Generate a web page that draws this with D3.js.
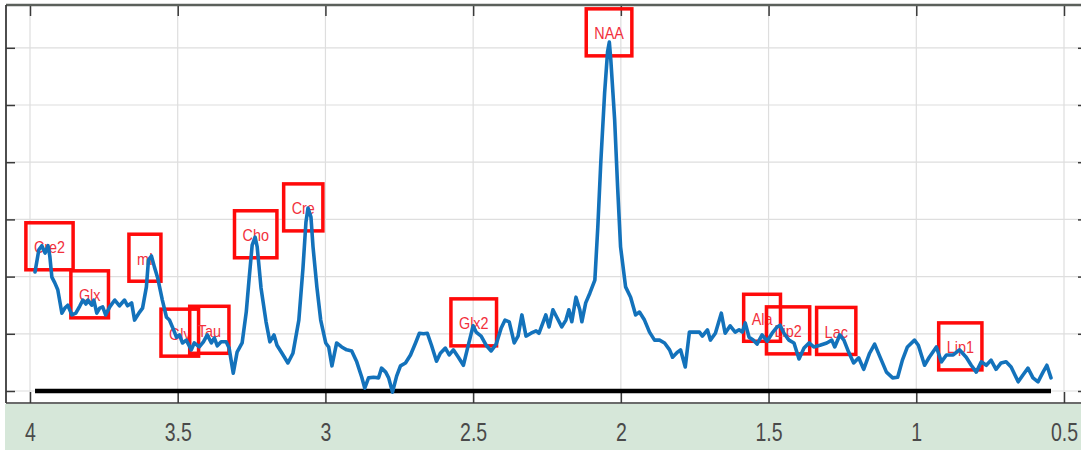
<!DOCTYPE html>
<html>
<head>
<meta charset="utf-8">
<script src="https://cdn.jsdelivr.net/npm/d3@7"></script>
<style>
  html, body { margin: 0; padding: 0; background: #fff; }
  svg { display: block; }
</style>
</head>
<body>
<svg id="chart" width="1081" height="450"></svg>
<script>
// Chemical shift (ppm) of each sample of the spectrum
const ppm = [
  3.983, 3.970, 3.960, 3.949, 3.939, 3.933, 3.926, 3.916, 3.906, 3.892,
  3.882, 3.872, 3.858, 3.845, 3.831, 3.821, 3.811, 3.804, 3.791, 3.784,
  3.774, 3.764, 3.754, 3.744, 3.730, 3.713, 3.697, 3.680, 3.670, 3.656,
  3.646, 3.629, 3.619, 3.606, 3.599, 3.589, 3.579, 3.568, 3.552, 3.538,
  3.528, 3.518, 3.504, 3.494, 3.484, 3.471, 3.454, 3.444, 3.427, 3.413,
  3.400, 3.386, 3.376, 3.366, 3.353, 3.336, 3.326, 3.312, 3.299, 3.282,
  3.268, 3.258, 3.248, 3.238, 3.231, 3.218, 3.201, 3.188, 3.174, 3.164,
  3.147, 3.127, 3.110, 3.090, 3.076, 3.066, 3.059, 3.049, 3.042, 3.029,
  3.016, 2.999, 2.989, 2.978, 2.962, 2.945, 2.928, 2.911, 2.894, 2.877,
  2.867, 2.854, 2.837, 2.820, 2.810, 2.796, 2.786, 2.773, 2.759, 2.746,
  2.729, 2.712, 2.695, 2.682, 2.668, 2.655, 2.641, 2.624, 2.611, 2.594,
  2.581, 2.567, 2.550, 2.533, 2.517, 2.500, 2.490, 2.473, 2.456, 2.439,
  2.422, 2.405, 2.392, 2.378, 2.361, 2.348, 2.335, 2.321, 2.304, 2.287,
  2.277, 2.264, 2.254, 2.243, 2.230, 2.216, 2.200, 2.186, 2.176, 2.166,
  2.152, 2.139, 2.132, 2.119, 2.105, 2.088, 2.078, 2.068, 2.055, 2.045,
  2.039, 2.034, 2.021, 2.011, 2.001, 1.984, 1.967, 1.950, 1.937, 1.920,
  1.903, 1.886, 1.869, 1.852, 1.835, 1.825, 1.808, 1.798, 1.782, 1.768,
  1.751, 1.734, 1.724, 1.707, 1.697, 1.680, 1.660, 1.647, 1.630, 1.613,
  1.600, 1.589, 1.579, 1.566, 1.552, 1.539, 1.522, 1.505, 1.488, 1.471,
  1.461, 1.448, 1.431, 1.414, 1.397, 1.380, 1.363, 1.347, 1.326, 1.303,
  1.286, 1.276, 1.259, 1.245, 1.229, 1.212, 1.195, 1.178, 1.158, 1.141,
  1.124, 1.101, 1.080, 1.063, 1.047, 1.030, 1.006, 0.993, 0.972, 0.956,
  0.932, 0.915, 0.898, 0.875, 0.854, 0.831, 0.814, 0.797, 0.780, 0.763,
  0.747, 0.730, 0.713, 0.696, 0.679, 0.655, 0.639, 0.622, 0.605, 0.588,
  0.571, 0.558, 0.544
];

// Signal intensity (arbitrary units, one unit per grid line)
const intensity = [
  2.08, 2.47, 2.54, 2.41, 2.54, 2.36, 1.99, 1.89, 1.77, 1.36,
  1.45, 1.50, 1.33, 1.36, 1.49, 1.59, 1.52, 1.59, 1.50, 1.59,
  1.36, 1.45, 1.47, 1.33, 1.47, 1.59, 1.49, 1.59, 1.49, 1.54,
  1.24, 1.38, 1.45, 1.82, 2.29, 2.36, 2.17, 1.98, 1.59, 1.29,
  1.24, 1.12, 0.94, 0.98, 0.84, 0.89, 0.72, 0.84, 0.77, 0.86,
  0.98, 0.84, 0.93, 0.79, 0.86, 0.86, 0.75, 0.31, 0.68, 0.84,
  1.38, 1.98, 2.55, 2.69, 2.52, 1.80, 1.21, 0.86, 0.98, 0.80,
  0.66, 0.49, 0.66, 1.24, 2.15, 2.95, 3.20, 3.04, 2.52, 1.82,
  1.24, 0.84, 0.77, 0.44, 0.84, 0.77, 0.72, 0.70, 0.51, 0.24,
  0.05, 0.23, 0.24, 0.23, 0.40, 0.33, 0.23, -0.02, 0.26, 0.44,
  0.49, 0.63, 0.84, 1.01, 1.00, 1.01, 0.80, 0.52, 0.66, 0.75,
  0.63, 0.72, 0.59, 0.45, 0.79, 1.14, 1.03, 0.96, 0.80, 0.70,
  0.82, 1.10, 1.24, 1.21, 0.84, 0.96, 1.33, 0.96, 1.01, 1.05,
  1.01, 1.19, 1.33, 1.12, 1.42, 1.28, 1.12, 1.24, 1.42, 1.21,
  1.64, 1.42, 1.21, 1.54, 1.71, 1.94, 2.87, 3.99, 5.21, 5.93,
  6.10, 5.79, 4.74, 3.57, 2.52, 1.82, 1.64, 1.33, 1.38, 1.24,
  1.03, 0.89, 0.89, 0.84, 0.72, 0.59, 0.68, 0.72, 0.42, 1.03,
  1.03, 1.03, 0.96, 1.07, 0.89, 1.01, 1.36, 1.01, 1.14, 1.03,
  1.07, 1.03, 1.19, 0.94, 0.89, 0.82, 0.98, 0.87, 1.01, 1.12,
  1.15, 1.01, 0.89, 0.84, 0.56, 0.75, 0.84, 0.77, 0.80, 0.84,
  0.89, 0.77, 0.98, 0.89, 0.68, 0.49, 0.58, 0.38, 0.66, 0.82,
  0.61, 0.33, 0.23, 0.24, 0.54, 0.77, 0.89, 0.80, 0.45, 0.59,
  0.77, 0.51, 0.63, 0.63, 0.72, 0.59, 0.45, 0.33, 0.51, 0.45,
  0.54, 0.38, 0.49, 0.51, 0.42, 0.16, 0.28, 0.40, 0.23, 0.16,
  0.33, 0.45, 0.23
];

// Metabolite annotations: name, centre shift and centre level of each box
const metabolites = ["Cre2", "Glx", "mI", "Gly", "Tau", "Cho", "Cre", "NAA", "Glx2", "Ala", "Lip2", "Lac", "Lip1"];
const metabolitePpm = [3.934, 3.798, 3.611, 3.493, 3.393, 3.236, 3.075, 2.040, 2.498, 1.522, 1.434, 1.271, 0.851];
const metaboliteLevel = [2.53, 1.69, 2.33, 1.02, 1.07, 2.74, 3.21, 6.27, 1.20, 1.28, 1.06, 1.05, 0.78];

// Axis ticks
const xTickValues = [4, 3.5, 3, 2.5, 2, 1.5, 1, 0.5];
const xTickLabels = ["4", "3.5", "3", "2.5", "2", "1.5", "1", "0.5"];
const yGridLevels = [0, 1, 2, 3, 4, 5, 6];

const svg = d3.select("#chart");

const frame = { left: 6, top: 5, right: 1084, bottom: 403 };

const x = d3.scaleLinear().domain([4, 0.5]).range([30, 1064]);
const y = d3.scaleLinear().domain([0, 6]).range([391, 391 - 6 * 57.2]);

// Tick label band under the plot
svg.append("rect")
  .attr("x", 5).attr("y", frame.bottom + 1)
  .attr("width", 1081 - 5).attr("height", 450 - frame.bottom - 1)
  .attr("fill", "#d6e7d9");

// Grid
const grid = svg.append("g").attr("stroke", "#dedede").attr("stroke-width", 1.2);
grid.selectAll("line.v").data(xTickValues).join("line")
  .attr("class", "v")
  .attr("x1", d => x(d)).attr("x2", d => x(d))
  .attr("y1", frame.top).attr("y2", frame.bottom);
grid.selectAll("line.h").data(yGridLevels).join("line")
  .attr("class", "h")
  .attr("x1", frame.left).attr("x2", frame.right)
  .attr("y1", d => y(d)).attr("y2", d => y(d));

// Axes with inward ticks
const axisColor = "#3a3a3a";
const topAxis = svg.append("g")
  .attr("transform", `translate(0,${frame.top})`)
  .call(d3.axisTop(x).tickValues(xTickValues).tickSize(-11).tickFormat(""));
const bottomAxis = svg.append("g")
  .attr("transform", `translate(0,${frame.bottom})`)
  .call(d3.axisBottom(x).tickValues(xTickValues).tickSize(-11).tickPadding(20)
    .tickFormat((d, i) => xTickLabels[i]));
const leftAxis = svg.append("g")
  .attr("transform", `translate(${frame.left},0)`)
  .call(d3.axisLeft(y).tickValues(yGridLevels).tickSize(-9).tickFormat(""));
const rightAxis = svg.append("g")
  .attr("transform", `translate(${frame.right},0)`)
  .call(d3.axisRight(y).tickValues(yGridLevels).tickSize(-6).tickFormat(""));

[topAxis, bottomAxis, leftAxis, rightAxis].forEach(g => {
  g.select(".domain").remove();
  g.selectAll(".tick line").attr("stroke", axisColor).attr("stroke-width", 1.5);
});

bottomAxis.selectAll(".tick text")
  .attr("fill", "#4a4a4a")
  .attr("font-family", "'Liberation Sans', Arial, sans-serif")
  .attr("font-size", 25)
  .attr("transform", "scale(0.78,1)");

// Plot frame
svg.append("line")
  .attr("x1", frame.left).attr("x2", frame.right)
  .attr("y1", frame.top).attr("y2", frame.top)
  .attr("stroke", "#5b605b").attr("stroke-width", 2.6);
svg.append("line")
  .attr("x1", frame.left).attr("x2", frame.left)
  .attr("y1", frame.top).attr("y2", frame.bottom)
  .attr("stroke", axisColor).attr("stroke-width", 1.8);
svg.append("line")
  .attr("x1", frame.left).attr("x2", frame.right)
  .attr("y1", frame.bottom).attr("y2", frame.bottom)
  .attr("stroke", axisColor).attr("stroke-width", 1.5);

// Zero baseline under the spectrum
svg.append("line")
  .attr("x1", x(d3.max(ppm))).attr("x2", x(d3.min(ppm)))
  .attr("y1", y(0)).attr("y2", y(0))
  .attr("stroke", "#000").attr("stroke-width", 4.5);

// Metabolite labels and boxes
const labels = svg.append("g");
const labelScale = 0.9;
metabolites.forEach((name, i) => {
  const cx = x(metabolitePpm[i]);
  const cy = y(metaboliteLevel[i]);
  const g = labels.append("g").attr("transform", `translate(${cx},${cy})`);
  const t = g.append("text")
    .attr("text-anchor", "middle")
    .attr("y", 7)
    .attr("transform", `scale(${labelScale},1)`)
    .attr("font-family", "'Liberation Sans', Arial, sans-serif")
    .attr("font-size", 16)
    .attr("fill", "#f2303c")
    .text(name);
  const w = Math.max(t.node().getComputedTextLength() * labelScale + 16, 29);
  const h = 47;
  g.append("rect")
    .attr("x", -w / 2).attr("y", -h / 2)
    .attr("width", w).attr("height", h)
    .attr("fill", "none")
    .attr("stroke", "#ff0a0a")
    .attr("stroke-width", 3.5);
});

// Spectrum
const points = ppm.map((p, i) => [p, intensity[i]]);
svg.append("path")
  .datum(points)
  .attr("fill", "none")
  .attr("stroke", "#1372bb")
  .attr("stroke-width", 3.6)
  .attr("stroke-linejoin", "round")
  .attr("stroke-linecap", "round")
  .attr("d", d3.line().x(d => x(d[0])).y(d => y(d[1])));
</script>
</body>
</html>
